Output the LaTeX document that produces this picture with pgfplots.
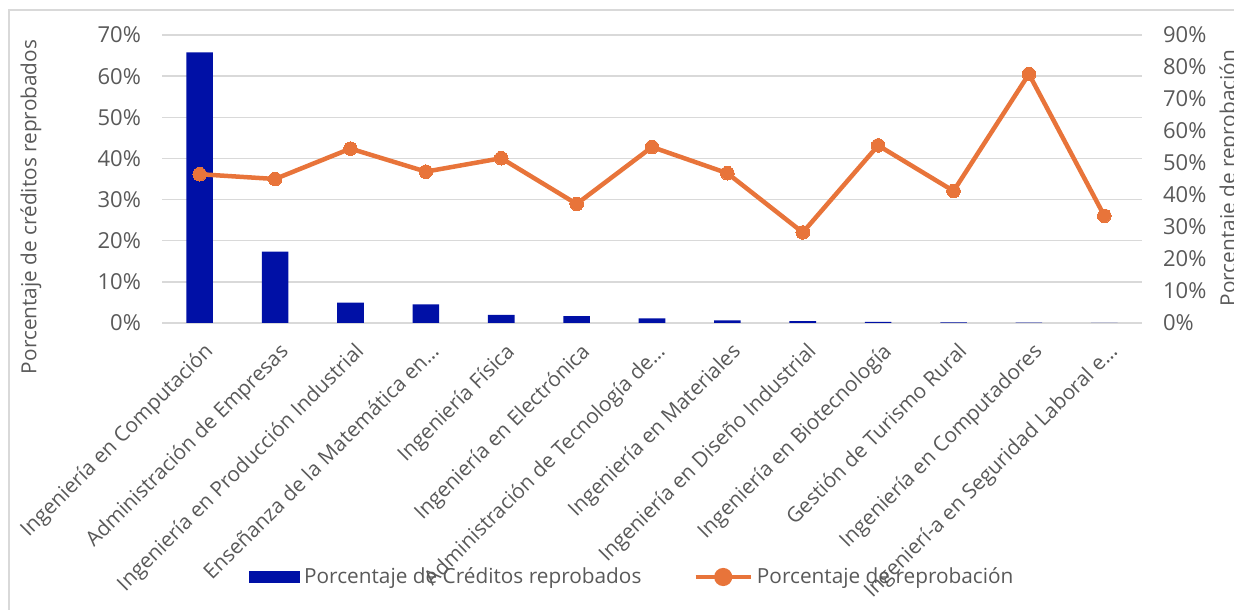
\documentclass[border=0pt]{standalone}
\usepackage{fontspec}
\setmainfont{Open Sans}
\usepackage{pgfplots}
\pgfplotsset{compat=1.18}

\definecolor{barblue}{RGB}{0,16,166}
\definecolor{lineorange}{RGB}{232,116,58}
\definecolor{txtgray}{RGB}{89,89,89}
\definecolor{gridgray}{RGB}{217,217,217}

\newcommand{\tickfont}{\fontsize{11pt}{13pt}\selectfont}
\newcommand{\chartfont}{\fontsize{10.4pt}{12.5pt}\selectfont}

\begin{document}
\begin{tikzpicture}
% chart frame
\draw[gridgray, line width=0.75pt] (4.5pt,299.5pt) rectangle (640pt,-10pt);

\pgfplotsset{
  common/.style={
    at={(81pt,143pt)}, anchor=south west,
    scale only axis, width=490pt, height=144pt,
    xmin=-0.5, xmax=12.5,
    axis line style={draw=none},
    major tick length=0pt,
    /pgf/number format/assume math mode=true,
    tick label style={font=\tickfont, text=txtgray},
    label style={font=\chartfont, text=txtgray},
  },
}

\begin{axis}[
  common,
  ymin=0, ymax=70,
  ytick={0,10,...,70},
  yticklabel={\pgfmathprintnumber{\tick}\%},
  yticklabel style={xshift=-7pt},
  ymajorgrids, grid style={gridgray, line width=0.75pt},
  xtick={0,...,12},
  xticklabels={
    Ingeniería en Computación,
    Administración de Empresas,
    Ingeniería en Producción Industrial,
    Enseñanza de la Matemática en…,
    Ingeniería Física,
    Ingeniería en Electrónica,
    Administración de Tecnología de…,
    Ingeniería en Materiales,
    Ingeniería en Diseño Industrial,
    Ingeniería en Biotecnología,
    Gestión de Turismo Rural,
    Ingeniería en Computadores,
    Ingenierí-a en Seguridad Laboral e…},
  xticklabel style={font=\chartfont, xshift=1.5pt, yshift=-9pt, rotate=45, anchor=north east, inner sep=0pt},
  ylabel={Porcentaje de créditos reprobados},
  ylabel style={at={(axis description cs:-0.1337,0.403)}, anchor=center},
  ybar, bar width=13.3pt,
]
\addplot[fill=barblue, draw=none] coordinates {
  (0,65.8) (1,17.35) (2,4.95) (3,4.55) (4,1.95) (5,1.7) (6,1.1)
  (7,0.65) (8,0.45) (9,0.25) (10,0.15) (11,0.08) (12,0.05)
};
\end{axis}

\begin{axis}[
  common,
  axis x line=none,
  axis y line*=right,
  ymin=0, ymax=90,
  ytick={0,10,...,90},
  yticklabel={\pgfmathprintnumber{\tick}\%},
  yticklabel style={xshift=7pt},
  ylabel={Porcentaje de reprobación},
  ylabel style={at={(axis description cs:1.0898,0.503)}, anchor=center},
  legend columns=2,
  legend style={
    at={(axis description cs:0.481,-0.882)}, anchor=center,
    draw=none, fill=none, font=\chartfont, text=txtgray,
    /tikz/every even column/.append style={column sep=24pt},
    nodes={inner sep=2pt},
  },
]
\addlegendimage{legend image code/.code={
  \fill[barblue] (0pt,-2.75pt) rectangle (25pt,2.75pt);}}
\addlegendentry{Porcentaje de Créditos reprobados}
\addplot[lineorange, line width=2.25pt, mark=*, mark size=3.4pt,
  mark options={fill=lineorange, draw=lineorange, line width=0pt},
  legend image code/.code={
    \draw[lineorange, line width=2.25pt] (0pt,0pt) -- (27.5pt,0pt);
    \fill[lineorange] (13.75pt,0pt) circle (3.4pt);}]
  coordinates {
  (0,46.5) (1,45) (2,54.5) (3,47.3) (4,51.5) (5,37.2) (6,55)
  (7,46.8) (8,28.3) (9,55.5) (10,41.25) (11,77.8) (12,33.5)
};
\addlegendentry{Porcentaje de reprobación}
\end{axis}

\pgfresetboundingbox
\path[use as bounding box] (0pt,0pt) rectangle (617pt,304.5pt);
\end{tikzpicture}
\end{document}
